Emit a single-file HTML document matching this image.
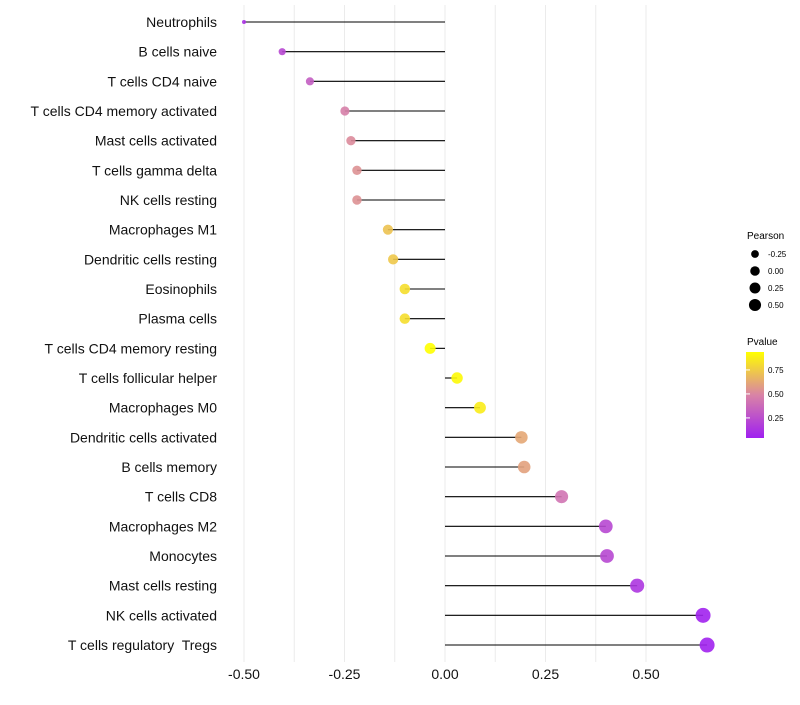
<!DOCTYPE html>
<html><head><meta charset="utf-8"><style>
body{margin:0;background:#fff;font-family:"Liberation Sans",sans-serif}
</style></head><body>
<svg id="chart" width="800" height="700" xmlns="http://www.w3.org/2000/svg" style="font-family:'Liberation Sans',sans-serif">
<defs><linearGradient id="pg" x1="0" y1="1" x2="0" y2="0">
<stop offset="0" stop-color="#a020f0"/><stop offset="0.5" stop-color="#d983a6"/><stop offset="1" stop-color="#ffff00"/></linearGradient></defs>
<g id="grid"></g><g id="marks"></g><g id="ylabels"></g><g id="xlabels"></g>
<g>
<text x="747" y="239" font-size="10">Pearson</text>
<g id="sizeleg"></g>
<text x="747" y="345" font-size="10">Pvalue</text>
<rect x="746" y="352" width="18" height="86" fill="url(#pg)"/>
<g id="colleg"></g>
</g>
</svg>
<script>
const categories=["Neutrophils","B cells naive","T cells CD4 naive","T cells CD4 memory activated","Mast cells activated","T cells gamma delta","NK cells resting","Macrophages M1","Dendritic cells resting","Eosinophils","Plasma cells","T cells CD4 memory resting","T cells follicular helper","Macrophages M0","Dendritic cells activated","B cells memory","T cells CD8","Macrophages M2","Monocytes","Mast cells resting","NK cells activated","T cells regulatory  Tregs"];
const pearson=[-0.50,-0.405,-0.336,-0.249,-0.234,-0.219,-0.219,-0.142,-0.129,-0.10,-0.10,-0.037,0.030,0.087,0.19,0.197,0.29,0.40,0.403,0.478,0.642,0.652];
const pvalue=[0.1,0.2,0.3,0.45,0.5,0.52,0.52,0.7,0.72,0.8,0.8,0.92,0.9,0.85,0.6,0.58,0.4,0.2,0.2,0.12,0.03,0.03];
const xTicks=[-0.5,-0.25,0,0.25,0.5];
const xTickLabels=["-0.50","-0.25","0.00","0.25","0.50"];
const sizeLegend=[-0.25,0,0.25,0.5];
const sizeLegendLabels=["-0.25","0.00","0.25","0.50"];
const colTicks=[0.25,0.5,0.75];
const colTickLabels=["0.25","0.50","0.75"];
const NS="http://www.w3.org/2000/svg";
const x=v=>445+v*402, y=i=>22+i*29.667;
const rad=v=>2+5.5*Math.sqrt(Math.max(0,(v+0.5)/1.15));
const cbY=p=>440-(p-0.02)*96;
function lerp(a,b,t){return a.map((c,i)=>Math.round(c+(b[i]-c)*t));}
function col(p){let t=Math.max(0,Math.min(1,(p-0.02)/0.9));const A=[160,32,240],M=[217,131,166],B=[255,255,0];
const c=t<0.5?lerp(A,M,t*2):lerp(M,B,(t-0.5)*2);return `rgb(${c})`;}
function mk(tag,attrs,parent,txt){const e=document.createElementNS(NS,tag);for(const k in attrs)e.setAttribute(k,attrs[k]);if(txt!=null)e.textContent=txt;document.getElementById(parent).appendChild(e);return e;}
for(let v=-0.5;v<=0.51;v+=0.125){const g=mk('line',{x1:x(v),x2:x(v),y1:5,y2:662,stroke:'#ebebeb','stroke-width':1},'grid');
}
xTicks.forEach((t,i)=>{const e=mk('text',{x:x(t),y:679,'font-size':14,'text-anchor':'middle',fill:'#111'},'xlabels',xTickLabels[i]);
});
categories.forEach((c,i)=>{
const l=mk('line',{x1:x(0),x2:x(pearson[i]),y1:y(i),y2:y(i),stroke:'#000','stroke-width':1.1},'marks');

const d=mk('circle',{cx:x(pearson[i]),cy:y(i),r:rad(pearson[i]),fill:col(pvalue[i]),'fill-opacity':0.9},'marks');

const t=mk('text',{x:217,y:y(i)+5,'font-size':14,'text-anchor':'end',fill:'#111',style:'white-space:pre'},'ylabels',c);
});
sizeLegend.forEach((v,i)=>{const cy=254+i*17;
const d=mk('circle',{cx:755,cy:cy,r:rad(v)*0.85,fill:'#000'},'sizeleg');

const t=mk('text',{x:768,y:cy+3,'font-size':8},'sizeleg',sizeLegendLabels[i]);
});
colTicks.forEach((p,i)=>{const cy=cbY(p);
const a=mk('line',{x1:746,x2:750,y1:cy,y2:cy,stroke:'#fff','stroke-width':1},'colleg');

const t=mk('text',{x:768,y:cy+3,'font-size':8},'colleg',colTickLabels[i]);
});
</script>
</body></html>
